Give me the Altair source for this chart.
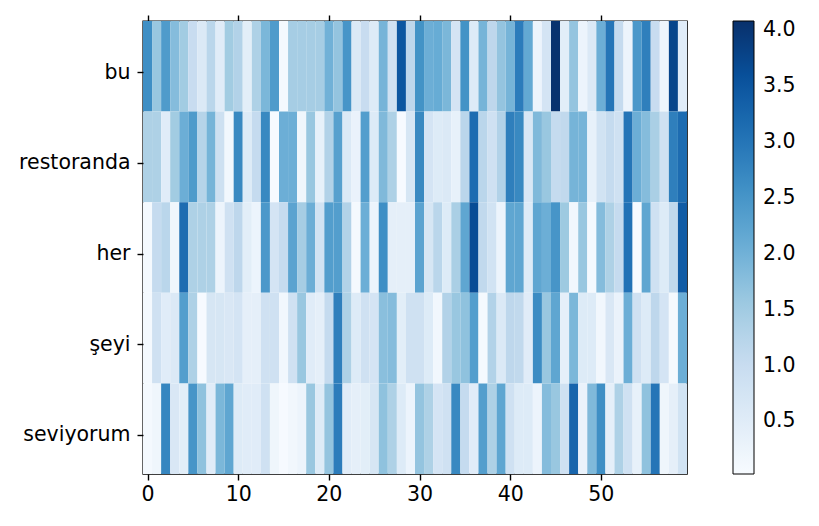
import altair as alt
import pandas as pd

words = ["bu", "restoranda", "her", "şeyi", "seviyorum"]

bu = [2.6, 1.6, 2.4, 1.8, 1.5, 1.0, 0.6, 1.2, 0.5, 1.5,
      1.3, 0.45, 1.35, 1.9, 2.4, 0.1, 1.45, 1.45, 1.45, 1.45,
      2.0, 1.65, 2.5, 0.6, 1.0, 0.55, 1.95, 0.85, 3.5, 1.15,
      2.55, 2.05, 2.1, 1.9, 0.75, 2.55, 0.55, 1.95, 1.15, 1.65,
      1.95, 2.9, 2.15, 0.25, 0.75, 4.05, 0.45, 1.65, 0.25, 0.6,
      2.05, 3.0, 1.05, 0.25, 2.45, 2.85, 1.0, 0.2, 3.75, 0.5]

restoranda = [1.35, 1.35, 0.5, 1.5, 2.05, 2.4, 1.25, 1.95, 0.9, 0.15,
              2.7, 0.55, 1.05, 2.7, 0.05, 2.05, 2.05, 0.2, 1.6, 0.35,
              1.3, 2.3, 0.6, 0.3, 2.35, 0.55, 1.85, 1.35, 0.05, 0.7,
              2.7, 0.75, 0.55, 0.6, 0.35, 1.2, 3.15, 1.2, 0.85, 1.3,
              2.85, 2.7, 0.65, 1.85, 1.6, 1.05, 1.1, 1.95, 1.95, 0.35,
              0.8, 1.05, 0.85, 3.0, 2.05, 1.8, 1.4, 0.85, 2.85, 3.15]

her = [0.1, 1.05, 1.2, 0.2, 3.15, 1.35, 1.35, 1.35, 0.25, 0.85,
       1.15, 0.45, 0.25, 2.45, 0.75, 1.05, 2.25, 1.45, 2.05, 0.8,
       2.35, 2.35, 1.3, 0.1, 2.05, 0.25, 2.6, 0.4, 0.4, 0.4,
       2.25, 0.7, 1.2, 0.55, 1.4, 2.2, 3.65, 1.1, 0.8, 0.25,
       2.2, 2.2, 0.55, 2.2, 2.05, 2.5, 1.55, 0.15, 1.6, 0.1,
       1.8, 1.35, 1.05, 3.05, 0.05, 2.2, 0.85, 0.55, 1.1, 3.4]

seyi = [0.1, 0.85, 0.5, 0.6, 2.35, 1.35, 0.05, 0.7, 0.7, 0.65,
        0.75, 0.4, 0.4, 0.85, 0.85, 0.15, 0.85, 1.6, 0.5, 0.4,
        1.05, 2.85, 1.35, 0.55, 0.85, 0.75, 1.75, 1.8, 0.45, 0.85,
        0.85, 0.55, 0.15, 1.3, 1.6, 1.7, 2.35, 0.1, 1.3, 0.6,
        1.15, 1.1, 0.5, 2.65, 1.6, 2.2, 0.4, 1.9, 0.55, 0.55,
        0.15, 0.65, 0.3, 2.05, 0.85, 0.55, 1.15, 0.75, 0.1, 2.05]

seviyorum = [0.1, 0.2, 2.75, 0.65, 0.45, 2.5, 1.7, 0.5, 1.9, 2.2,
             0.55, 0.5, 0.5, 0.85, 0.2, 0.05, 0.15, 0.25, 1.6, 0.55,
             1.65, 2.9, 0.5, 0.4, 0.45, 0.7, 1.7, 1.35, 0.55, 0.25,
             1.65, 1.35, 0.75, 0.85, 2.7, 1.05, 0.5, 2.35, 1.35, 2.2,
             0.85, 0.55, 0.55, 0.25, 1.8, 1.6, 0.85, 3.25, 0.3, 1.85,
             2.6, 0.4, 1.35, 0.85, 0.35, 1.7, 3.0, 0.2, 0.4, 0.8]

x_ticks = [0, 10, 20, 30, 40, 50]
cbar_ticks = [0.5, 1.0, 1.5, 2.0, 2.5, 3.0, 3.5, 4.0]
vmin, vmax = 0.03, 4.08
blues = ["#f7fbff", "#deebf7", "#c6dbef", "#9ecae1", "#6baed6",
         "#4292c6", "#2171b5", "#08519c", "#08306b"]

rows = []
for w, vals in zip(words, [bu, restoranda, her, seyi, seviyorum]):
    for i, v in enumerate(vals):
        rows.append({"word": w, "col": i, "value": v})
df = pd.DataFrame(rows)

FONT = "DejaVu Sans"
FS = 20.5
stops = [vmin + (vmax - vmin) * k / 8 for k in range(9)]

xscale = alt.Scale(domain=[-0.5, 59.5], nice=False, zero=False)
yaxis = alt.Axis(labelFontSize=FS, labelColor="black", tickColor="black",
                 tickSize=6, tickWidth=1.4, labelPadding=7, domain=False,
                 labelFont=FONT, labelAngle=0, tickOffset=6)
yenc = alt.Y("word:N", sort=words, title=None,
             scale=alt.Scale(paddingInner=0, paddingOuter=0), axis=yaxis)

base = alt.Chart(df).transform_calculate(
    x0="datum.col - 0.5", x1="datum.col + 0.5"
)

heat = base.mark_rect(strokeWidth=0).encode(
    x=alt.X("x0:Q", scale=xscale, title=None,
            axis=alt.Axis(values=x_ticks, orient="bottom", labelFontSize=FS,
                          labelColor="black", tickColor="black", tickSize=6,
                          tickWidth=1.4, labelPadding=4, domain=False, grid=False,
                          labelFont=FONT, format="d")),
    x2="x1:Q",
    y=yenc,
    color=alt.Color("value:Q",
                    scale=alt.Scale(domain=stops, range=blues, interpolate="rgb"),
                    legend=alt.Legend(orient="none", legendX=590, legendY=0,
                                      direction="vertical", title=None,
                                      gradientLength=453, gradientThickness=21,
                                      gradientStrokeColor="black",
                                      gradientStrokeWidth=1,
                                      values=cbar_ticks, format=".1f",
                                      labelFontSize=FS, labelColor="black",
                                      labelFont=FONT, labelOffset=9)),
)

top = base.mark_rect(opacity=0).encode(
    x=alt.X("x0:Q", scale=xscale, title=None,
            axis=alt.Axis(values=x_ticks, orient="top", labels=False,
                          tickColor="black", tickSize=6, tickWidth=1.4,
                          domain=False, grid=False)),
    x2="x1:Q",
    y=yenc,
)

chart = alt.layer(heat, top).resolve_axis(x="independent").properties(
    width=544, height=453,
    autosize=alt.AutoSizeParams(type="none"),
    padding={"left": 143, "top": 21, "right": 132, "bottom": 52},
    background="white",
).configure_view(stroke="black", strokeWidth=1.4)

chart.save("out.html", embed_options={"renderer": "svg", "actions": False})
